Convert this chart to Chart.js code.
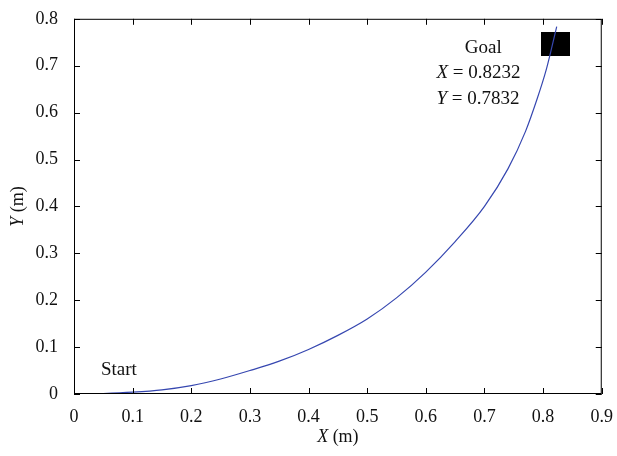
<!DOCTYPE html>
<html lang="en">
<head>
<meta charset="UTF-8">
<title>Trajectory</title>
<script src="https://cdn.jsdelivr.net/npm/chart.js@4"></script>
<style>
  body { margin: 0; background: #fff; }
  #wrap { width: 617px; height: 456px; }
</style>
</head>
<body>
<div id="wrap"><canvas id="myChart"></canvas></div>
<script>
    // Trajectory (m)
    const pathX = [0.02, 0.05, 0.1, 0.15, 0.2, 0.25, 0.3, 0.35, 0.4, 0.45, 0.5, 0.55, 0.6, 0.65, 0.7, 0.74, 0.77, 0.79, 0.805, 0.815, 0.8232];
    const pathY = [0, 0.001, 0.004, 0.009, 0.018, 0.032, 0.05, 0.07, 0.095, 0.125, 0.16, 0.205, 0.26, 0.325, 0.40, 0.48, 0.56, 0.63, 0.69, 0.74, 0.7832];

    // Goal marker
    const goalX = [0.8218];
    const goalY = [0.746];

    // Ticks
    const xTicks = [0, 0.1, 0.2, 0.3, 0.4, 0.5, 0.6, 0.7, 0.8, 0.9];
    const yTicks = [0, 0.1, 0.2, 0.3, 0.4, 0.5, 0.6, 0.7, 0.8];

    const serif = '"Liberation Serif", "DejaVu Serif", serif';

    // black box for goal
    const box = document.createElement('canvas');
    box.width = 29; box.height = 24;
    const bctx = box.getContext('2d');
    bctx.fillStyle = '#000';
    bctx.fillRect(0, 0, 29, 24);

    // writes "V = value" with the variable in italic
    const mixed = (ctx, v, rest, x0, y0, size) => {
        ctx.font = 'italic ' + size + 'px ' + serif;
        ctx.fillText(v, x0, y0);
        const w = ctx.measureText(v).width;
        ctx.font = size + 'px ' + serif;
        ctx.fillText(rest, x0 + w, y0);
    };
    const mixedWidth = (ctx, v, rest, size) => {
        ctx.font = 'italic ' + size + 'px ' + serif;
        const a = ctx.measureText(v).width;
        ctx.font = size + 'px ' + serif;
        return a + ctx.measureText(rest).width;
    };

    // draws frame, inner ticks, annotations, axis titles
    const decor = {
        id: 'decor',
        afterDraw(chart) {
            const ctx = chart.ctx;
            const a = chart.chartArea;
            const sx = chart.scales.x, sy = chart.scales.y;
            ctx.save();
            ctx.strokeStyle = '#000';
            ctx.lineWidth = 1;
            ctx.strokeRect(a.left + 0.5, a.top + 0.5, a.right - a.left - 1, a.bottom - a.top - 1);
            ctx.beginPath();
            xTicks.forEach(v => {
                const p = Math.round(sx.getPixelForValue(v)) + 0.5;
                ctx.moveTo(p, a.bottom); ctx.lineTo(p, a.bottom - 6);
                ctx.moveTo(p, a.top); ctx.lineTo(p, a.top + 6);
            });
            yTicks.forEach(v => {
                const p = Math.round(sy.getPixelForValue(v)) + 0.5;
                ctx.moveTo(a.left, p); ctx.lineTo(a.left + 6, p);
                ctx.moveTo(a.right, p); ctx.lineTo(a.right - 6, p);
            });
            ctx.stroke();

            ctx.fillStyle = '#111';
            ctx.font = '19px ' + serif;
            ctx.textBaseline = 'middle';
            ctx.textAlign = 'left';
            ctx.fillText('Start', sx.getPixelForValue(0.046), sy.getPixelForValue(0.051));
            ctx.textAlign = 'center';
            ctx.fillText('Goal', sx.getPixelForValue(0.698), sy.getPixelForValue(0.738));
            ctx.textAlign = 'left';
            mixed(ctx, 'X', ' = 0.8232', sx.getPixelForValue(0.618), sy.getPixelForValue(0.684), 19);
            mixed(ctx, 'Y', ' = 0.7832', sx.getPixelForValue(0.618), sy.getPixelForValue(0.630), 19);

            // axis titles
            const wx = mixedWidth(ctx, 'X', ' (m)', 18);
            mixed(ctx, 'X', ' (m)', (a.left + a.right) / 2 - wx / 2, 437, 18);

            ctx.translate(18, (a.top + a.bottom) / 2);
            ctx.rotate(-Math.PI / 2);
            const wy = mixedWidth(ctx, 'Y', ' (m)', 18);
            mixed(ctx, 'Y', ' (m)', -wy / 2, 0, 18);
            ctx.restore();
        }
    };

    const ctx = document.getElementById('myChart').getContext('2d');
    const chart = new Chart(ctx, {
        type: 'scatter',
        data: {
            datasets: [{
                label: 'Path',
                data: pathX.map((x, i) => ({ x: x, y: pathY[i] })),
                showLine: true,
                borderColor: '#3647b0',
                borderWidth: 1.2,
                pointRadius: 0,
                cubicInterpolationMode: 'monotone'
            }, {
                label: 'Goal',
                data: goalX.map((x, i) => ({ x: x, y: goalY[i] })),
                pointStyle: box,
                pointRadius: 12
            }]
        },
        options: {
            responsive: true,
            maintainAspectRatio: false,
            animation: false,
            layout: { padding: { top: 17, right: 14, left: 0, bottom: 0 } },
            plugins: { legend: { display: false }, tooltip: { enabled: false } },
            scales: {
                x: {
                    type: 'linear', min: 0, max: 0.9,
                    afterBuildTicks: s => { s.ticks = xTicks.map(v => ({ value: v })); },
                    afterFit: s => { s.height = 62; },
                    grid: { display: false },
                    border: { display: false },
                    ticks: {
                        color: '#111', padding: 4,
                        font: { family: serif, size: 18 },
                        callback: v => String(Number(v.toFixed(1)))
                    }
                },
                y: {
                    type: 'linear', min: 0, max: 0.8,
                    afterBuildTicks: s => { s.ticks = yTicks.map(v => ({ value: v })); },
                    afterFit: s => { s.width = 74; },
                    grid: { display: false },
                    border: { display: false },
                    ticks: {
                        color: '#111', padding: 8,
                        font: { family: serif, size: 18 },
                        callback: v => String(Number(v.toFixed(1)))
                    }
                }
            }
        },
        plugins: [decor]
    });
</script>
</body>
</html>
